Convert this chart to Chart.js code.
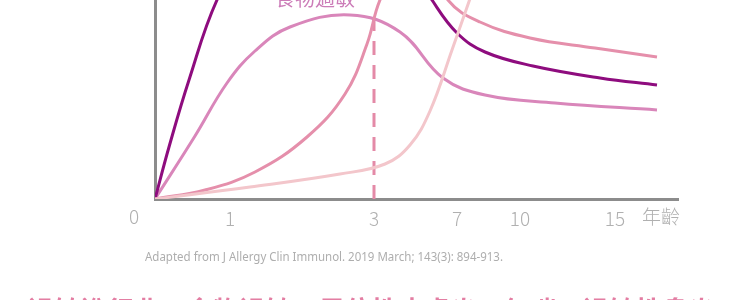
<!DOCTYPE html>
<html>
<head>
<meta charset="utf-8">
<script src="https://cdn.jsdelivr.net/npm/chart.js@4"></script>
<style>
  html, body { margin: 0; padding: 0; background: #fff; }
  #wrap { width: 750px; height: 300px; }
</style>
</head>
<body>
<div id="wrap"><canvas id="myChart" width="750" height="300"></canvas></div>
<script>
// Axis units: x = position along the age axis, y = height above the axis
const xTickPos = [75, 219, 302, 365, 460];
const xTickLabels = ['1', '3', '7', '10', '15'];

// curves, [x, y]
const curveDark = [[0, 0], [14, 52], [34, 119], [62, 199], [100, 265], [175, 292], [240, 258], [277, 199], [302, 166], [330, 147], [378, 133], [445, 121], [502, 114]];
const curvePink = [[0, 0], [50, 9], [100, 27], [152, 62], [190, 105], [212, 155], [225, 199], [257, 262], [293, 199], [325, 177], [375, 161], [440, 151], [502, 142]];
const curveOrchid = [[0, 0], [40, 63], [72, 116], [100, 148], [135, 172], [195, 184], [245, 167], [288, 121], [330, 104], [400, 96], [502, 89]];
const curveLight = [[0, 0], [95, 12], [185, 25], [230, 35], [255, 54], [275, 88], [297, 149], [325, 229]];
const dashedLine = [[219, 0], [219, 181]];

const toPts = arr => arr.map(p => ({ x: p[0], y: p[1] }));

const line = (data, color, order, extra) => Object.assign({
    data: toPts(data),
    borderColor: color,
    borderWidth: 3,
    pointRadius: 0,
    tension: 0.4,
    fill: false,
    order: order
}, extra || {});

// extra texts around the plot
const textPlugin = {
    id: 'texts',
    afterDraw(chart) {
        const ctx = chart.ctx;
        const xs = chart.scales.x;
        ctx.save();
        ctx.fillStyle = '#b0b0b0';
        ctx.font = '300 19px "Noto Sans CJK TC"';
        ctx.textBaseline = 'alphabetic';
        ctx.textAlign = 'center';
        ctx.fillText('0', xs.getPixelForValue(-21), 224);
        ctx.textAlign = 'left';
        ctx.fillText('年齡', xs.getPixelForValue(487), 224);

        ctx.fillStyle = '#cc7cb8';
        ctx.font = '20px "Noto Sans CJK TC"';
        ctx.fillText('食物過敏', 275, 6);

        ctx.fillStyle = '#aeaeae';
        ctx.font = '13px "Noto Sans"';
        ctx.fillText('Adapted from J Allergy Clin Immunol. 2019 March; 143(3): 894-913.', 145, 261, 358);

        ctx.fillStyle = '#e37ea3';
        ctx.font = 'bold 28px "Noto Sans CJK TC"';
        ctx.textBaseline = 'top';
        ctx.fillText('過敏進行曲：食物過敏、異位性皮膚炎、氣喘、過敏性鼻炎', 28, 297, 687);
        ctx.restore();
    }
};

const config = {
    type: 'line',
    data: {
        datasets: [
            line(curveLight, '#f3c6cb', 0),
            line(curvePink, '#e58fab', 1),
            line(curveDark, '#8e0c7e', 2),
            line(curveOrchid, '#d986ba', 3),
            line(dashedLine, '#e48aa7', 4, { borderDash: [14, 10], tension: 0 })
        ]
    },
    options: {
        responsive: false,
        animation: false,
        layout: { padding: { left: 0, right: 72, top: 0, bottom: 0 } },
        plugins: {
            legend: { display: false },
            tooltip: { enabled: false }
        },
        scales: {
            x: {
                type: 'linear',
                min: 0,
                max: 523,
                grid: { display: false, drawTicks: false },
                border: { display: true, color: '#8c8c8c', width: 3 },
                afterBuildTicks: scale => {
                    scale.ticks = xTickPos.map(v => ({ value: v }));
                },
                afterFit: scale => { scale.height = 101; },
                ticks: {
                    padding: 8,
                    color: '#b0b0b0',
                    font: { family: '"Noto Sans CJK TC"', size: 19, weight: 300 },
                    maxRotation: 0,
                    autoSkip: false,
                    callback: value => {
                        const i = xTickPos.indexOf(value);
                        return i >= 0 ? xTickLabels[i] : '';
                    }
                }
            },
            y: {
                type: 'linear',
                min: 0,
                max: 199,
                grid: { display: false, drawTicks: false },
                border: { display: true, color: '#8c8c8c', width: 3 },
                ticks: { display: false },
                afterFit: scale => { scale.width = 155; }
            }
        }
    },
    plugins: [textPlugin]
};

const ctx = document.getElementById('myChart').getContext('2d');
new Chart(ctx, config);
</script>
</body>
</html>
